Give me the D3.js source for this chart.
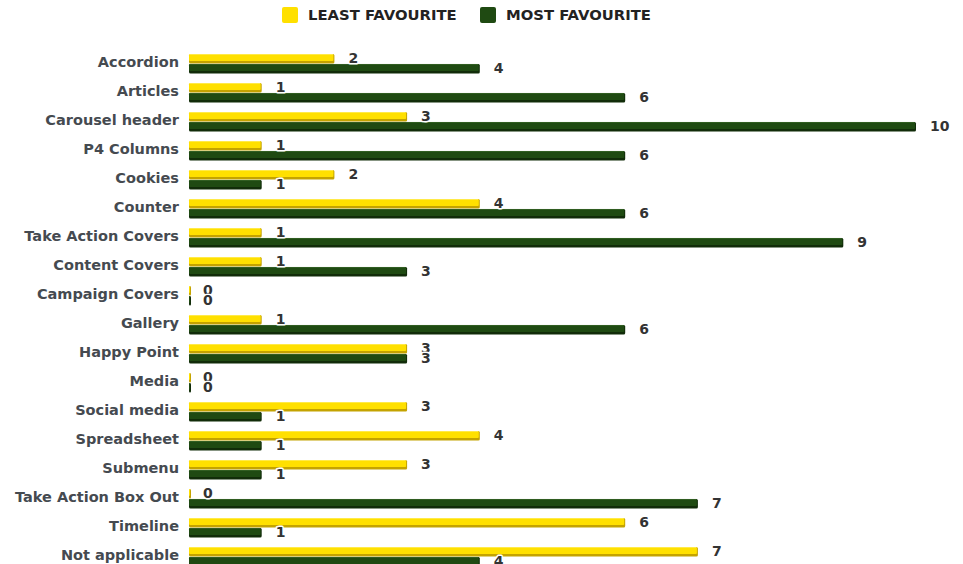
<!DOCTYPE html>
<html>
<head>
<meta charset="utf-8">
<script src="https://cdn.jsdelivr.net/npm/d3@7"></script>
<style>
	body { margin: 0; background: #fff; }
	svg text { font-family: 'DejaVu Sans', Verdana, sans-serif; font-weight: bold; }
</style>
</head>
<body>
<div id="chart"></div>
<script>

const categories = ['Accordion', 'Articles', 'Carousel header', 'P4 Columns', 'Cookies', 'Counter',
	'Take Action Covers', 'Content Covers', 'Campaign Covers', 'Gallery', 'Happy Point', 'Media',
	'Social media', 'Spreadsheet', 'Submenu', 'Take Action Box Out', 'Timeline', 'Not applicable'];
const leastFavourite = [2, 1, 3, 1, 2, 4, 1, 1, 0, 1, 3, 0, 3, 4, 3, 0, 6, 7];
const mostFavourite = [4, 6, 10, 6, 1, 6, 9, 3, 0, 6, 3, 0, 1, 1, 1, 7, 1, 4];
const seriesNames = ['LEAST FAVOURITE', 'MOST FAVOURITE'];

let width = 963,
		height = 564,
		padLeft = 189,
		padRight = 916,
		padTop = 49.5,
		step = 29,
		colors = [
			{main: '#ffe000', dark: '#c4a300', light: '#fff07a'},
			{main: '#1f4a12', dark: '#112c09', light: '#3d6a2e'}
		];

let svg = d3.select('#chart').append('svg')
		.attr('width', width)
		.attr('height', height);

let x = d3.scaleLinear().domain([0, 10]).range([padLeft, padRight]);
let y = d3.scaleBand().domain(categories).range([padTop, padTop + step * categories.length]);
let sub = d3.scaleBand().domain([0, 1]).range([-10, 9.5]).paddingInner(0.04);

// category labels
svg.append('g').selectAll('text')
		.data(categories)
		.enter()
		.append('text')
		.attr('x', 179)
		.attr('y', d => y(d) + y.bandwidth() / 2 - 2)
		.attr('dy', '0.35em')
		.attr('text-anchor', 'end')
		.attr('fill', '#454a50')
		.style('font-size', '14.5px')
		.text(d => d);

let rows = categories.map((c, i) => ({cat: c, vals: [leastFavourite[i], mostFavourite[i]]}));

let bars = svg.append('g');
let labels = svg.append('g');

rows.forEach(r => {
	let cy = y(r.cat) + y.bandwidth() / 2;
	r.vals.forEach((v, s) => {
		let by = cy + sub(s),
				bh = sub.bandwidth(),
				bw = Math.max(x(v) - x(0), 2),
				c = colors[s],
				g = bars.append('g');
		g.append('rect')
				.attr('x', x(0)).attr('y', by)
				.attr('width', bw).attr('height', bh)
				.attr('rx', 1.5)
				.attr('fill', c.dark);
		g.append('rect')
				.attr('x', x(0)).attr('y', by)
				.attr('width', bw - 1).attr('height', bh - 2.5)
				.attr('rx', 1)
				.attr('fill', c.main);
		g.append('rect')
				.attr('x', x(0)).attr('y', by)
				.attr('width', bw - 1.5).attr('height', 1)
				.attr('fill', c.light)
				.attr('opacity', 0.6);

		labels.append('text')
				.attr('x', x(v) + 14)
				.attr('y', by + bh / 2 - 1)
				.attr('dy', '0.35em')
				.attr('fill', '#333')
				.attr('stroke', '#fff')
				.attr('stroke-width', 3)
				.attr('stroke-linejoin', 'round')
				.style('paint-order', 'stroke')
				.style('font-size', '14px')
				.text(v);
	});
});

// legend
let legendX = [282, 480];
let legend = svg.append('g').selectAll('g')
		.data(seriesNames)
		.enter()
		.append('g')
		.attr('transform', (d, i) => `translate(${legendX[i]}, 7)`);

legend.append('rect')
		.attr('width', 16).attr('height', 16)
		.attr('rx', 2)
		.attr('fill', (d, i) => colors[i].main);

legend.append('text')
		.attr('x', 26).attr('y', 8)
		.attr('dy', '0.35em')
		.attr('fill', '#222')
		.style('font-size', '14.8px')
		.text(d => d);

</script>
</body>
</html>
